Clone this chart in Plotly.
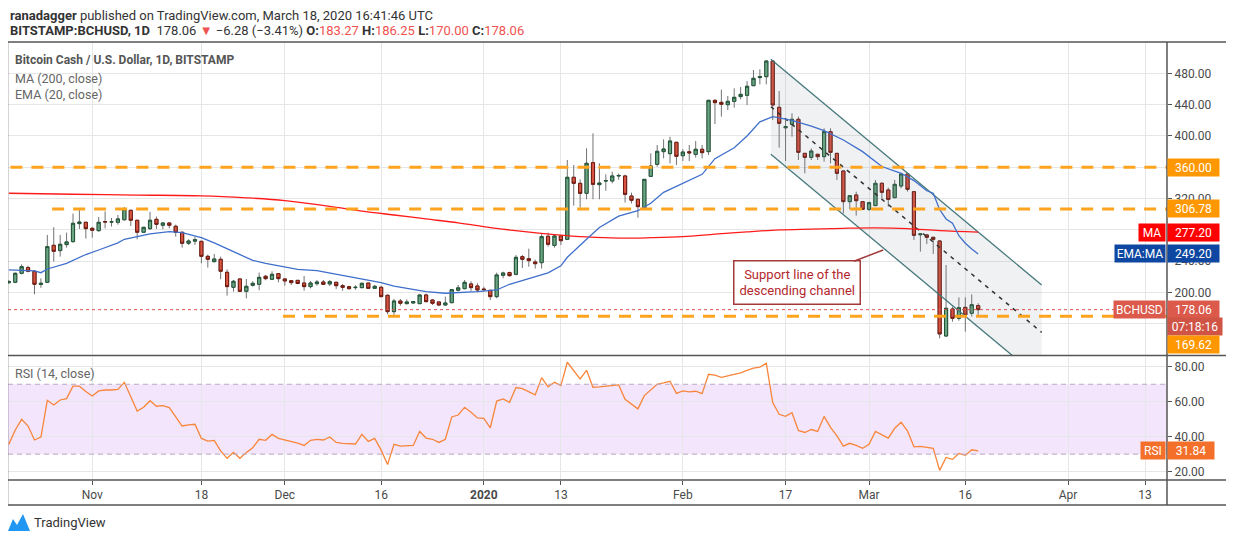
import plotly.graph_objects as go
import pandas as pd

# 페이지 기본 여백(8px)을 고려한 캔버스 크기
OX, OY = 8, 8
W, H = 1234 - OX, 541 - OY
FONT = "Liberation Sans Narrow, Roboto, Arial, sans-serif"

# 일봉 데이터 (BITSTAMP:BCHUSD, 2019-10-19 ~ 2020-03-18)
dates = pd.date_range("2019-10-19", "2020-03-18", freq="D")
opens = [
    212.5, 213, 224.5, 231.8, 227.1, 210.3, 213, 260.3, 253.5, 261.2,
    265, 288, 289.7, 282, 279, 290.5, 290, 289.7, 293, 305,
    292.3, 277, 281.6, 293.5, 285.9, 288.8, 284.6, 276.9, 262.9, 265.6,
    265.4, 246.2, 239.4, 242.4, 225.8, 206.6, 217.3, 201.5, 209.2, 210.5,
    220.7, 216.9, 224.1, 217.3, 215.1, 215.5, 212.1, 207.5, 211.3, 213.4,
    210.9, 213, 208.7, 207.4, 206.2, 206.2, 212.1, 205.3, 206.6, 196.4,
    175.5, 189.1, 185.7, 186.6, 185.7, 196.8, 190.4, 187.9, 184, 187,
    202.9, 204.9, 210.9, 208.3, 204.4, 202.8, 194.7, 221.9, 225.4, 223.2,
    245.8, 243.2, 239, 238.1, 271.8, 260.1, 272.2, 267.9, 347.2, 339.5,
    326.7, 365.9, 337.8, 342.5, 342.5, 348.9, 348.9, 323.3, 319.1, 308.4,
    348.4, 363.8, 380, 377.4, 391.9, 374.8, 379.8, 376.5, 383, 380,
    445.6, 443, 440, 444.3, 450.3, 452, 464.3, 474.6, 475.8, 495.8,
    436.6, 410.5, 414.9, 421.3, 377.8, 372.7, 376.6, 373.6, 405.5, 377.8,
    355.3, 316.1, 324.6, 316.1, 306.3, 311, 339.5, 331, 321.2, 336.1,
    351.4, 328.8, 273.8, 273.5, 270.5, 265.8, 144.4, 178.9, 167, 181,
    173.4, 183.27,
]
highs = [
    216, 225.5, 236, 234.3, 228, 218, 273.5, 283.3, 273.5, 276.5,
    300.8, 306.7, 290.5, 283.7, 296.5, 303.8, 295.2, 299, 309.3, 305.8,
    292.8, 283.5, 303, 297, 290.1, 290.1, 286.7, 278.2, 268, 271.4,
    265.9, 248.4, 249.2, 245.8, 229.6, 216, 217.8, 217.3, 214.3, 225.4,
    222.4, 227.1, 224.6, 218.1, 216, 216, 221.1, 214.7, 216, 216,
    216, 213.8, 210.9, 208.7, 209.2, 212.6, 212.5, 209.6, 208.7, 197.6,
    191.7, 191.7, 191.3, 189.1, 197.6, 198.5, 191.7, 188.3, 194.7, 203.9,
    209.6, 216, 214.3, 211.7, 207.4, 203.2, 225.4, 226.6, 226.6, 247.9,
    247.9, 256, 242, 275.6, 276.5, 273.5, 273.5, 369.3, 362.9, 344.6,
    384.2, 403.4, 365.1, 351, 354.4, 352, 350.5, 327.6, 319.5, 345,
    377.8, 388.5, 395.7, 399.1, 392.5, 383, 388.5, 393.6, 388.5, 446,
    446.5, 459.2, 451.1, 460.9, 462.6, 470.3, 484.3, 485.2, 496.7, 496.7,
    457.5, 422.6, 429, 424.7, 378.3, 384.2, 377, 409.8, 409.8, 378.3,
    355.8, 324, 328.8, 316.5, 316.1, 343.8, 340.8, 334, 343.8, 353.1,
    353.1, 329.7, 275.6, 274.8, 271, 267.1, 235.1, 181.9, 193.8, 193.8,
    197.6, 186.25,
]
lows = [
    211, 212, 223, 225.8, 197.7, 206, 212, 239.4, 245.8, 257.3,
    263.7, 281.2, 268.8, 270, 277.8, 282, 284.2, 286.7, 291.8, 285,
    268, 276.5, 280, 281.2, 280.7, 282, 271.4, 257.3, 260.7, 260.7,
    237.3, 231.8, 238.6, 216.9, 196, 201.1, 200.7, 192.6, 207.5, 202.8,
    215.6, 216, 213, 208.8, 209.6, 210.5, 202.3, 205.3, 208.7, 209.6,
    208.3, 204.5, 202.3, 203.6, 203.6, 205.3, 204.5, 204.5, 193.8, 172.1,
    168.3, 183.2, 184.9, 185.7, 185.3, 187.4, 184, 182.7, 183.2, 186.2,
    201.1, 204, 201.9, 200.2, 202.3, 190.4, 192.6, 218.1, 220.2, 221.9,
    231.3, 233, 230.5, 230.5, 258.6, 257.3, 260.7, 267.9, 311, 308.4,
    319.1, 319.1, 319.1, 330, 339.5, 344, 315, 313.9, 295.6, 307.5,
    348, 360.8, 371.4, 365, 362.9, 368, 368, 372.3, 371.4, 375.7,
    415.3, 424.7, 433.2, 436.2, 446.8, 439.6, 464, 466, 466, 420.4,
    385.1, 368, 399, 369.3, 352.3, 369.3, 369.3, 367.2, 365, 343.8,
    301.2, 306.3, 298.2, 305.4, 304.1, 310.5, 320.3, 309.7, 320.3, 333.1,
    328.9, 267.1, 252.2, 262, 249.2, 141.4, 143.5, 162.7, 164, 149.9,
    169.1, 170.00,
]
closes = [
    213.9, 224.5, 233, 227.1, 210.5, 211.7, 258.6, 252.6, 261.6, 264.6,
    288.4, 290.1, 281.6, 279.5, 289.7, 290.2, 290.3, 294, 306.3, 292.3,
    277, 283.3, 292.3, 287.1, 288.8, 285.9, 276.9, 262.9, 265.8, 267.5,
    246.2, 242.4, 242.8, 227.1, 207.5, 214.3, 201.5, 207.9, 211.7, 219.4,
    217.7, 223.2, 217.7, 214.7, 212.6, 211.5, 207.5, 212.1, 213.4, 210.4,
    213.8, 208.7, 206.6, 204.9, 206.6, 211.7, 205.3, 207.9, 194.7, 175.5,
    189.1, 186.2, 187.9, 188.3, 196.8, 188.3, 186.2, 184, 186.6, 203.6,
    205.9, 213, 206.2, 203.2, 203.6, 194.7, 222.4, 224.9, 221.5, 244.9,
    242.4, 240.7, 236.8, 271.4, 261.6, 272.2, 266.2, 347.2, 339.5, 326.7,
    365.1, 338.2, 339.9, 342.9, 348.9, 349.5, 325.4, 317.8, 309.7, 344.6,
    361.6, 380.4, 383.4, 393.6, 374, 379.5, 378.5, 383, 378.7, 445.6,
    442.6, 440.5, 444.3, 449.4, 453.2, 463.5, 473.7, 476, 495.8, 439.6,
    416.2, 412, 421.3, 379.1, 372.7, 380.8, 373.6, 405.5, 379.1, 352.3,
    316.1, 323.7, 317.3, 306.3, 314.8, 339.5, 328, 319, 338.2, 351.4,
    331.8, 273.1, 274.8, 270.5, 267.9, 147, 179.8, 167, 180.6, 171.2,
    184.34, 178.06,
]
rsi = [
    35.6, 43.8, 49.9, 46.1, 38.1, 39.8, 60.8, 58.1, 61.0, 61.8,
    68.9, 68.9, 65.8, 63.3, 66.2, 66.7, 66.7, 67.1, 71.1, 62.9,
    54.7, 56.8, 60.6, 57.4, 57.8, 56.6, 51.5, 46.1, 46.7, 47.1,
    39.0, 37.5, 37.9, 31.9, 27.6, 31.0, 27.6, 31.0, 33.7, 38.5,
    37.9, 41.3, 39.0, 38.1, 37.3, 36.3, 35.0, 37.9, 38.5, 38.1,
    39.8, 36.7, 36.2, 35.8, 35.8, 41.3, 37.3, 39.0, 32.3, 24.1,
    35.6, 34.6, 35.0, 35.0, 43.0, 39.2, 38.5, 36.7, 38.5, 51.3,
    52.4, 56.8, 54.0, 50.7, 50.5, 45.1, 60.4, 61.6, 59.7, 68.1,
    67.5, 65.8, 63.9, 73.8, 68.5, 71.1, 69.2, 82.6, 77.8, 73.1,
    78.0, 68.3, 68.5, 68.9, 68.9, 69.6, 61.4, 58.5, 55.9, 63.5,
    66.6, 70.0, 70.8, 71.7, 64.8, 66.2, 65.6, 66.0, 64.6, 75.7,
    75.2, 74.0, 74.8, 75.7, 76.5, 78.0, 79.2, 79.8, 82.0, 59.5,
    52.8, 51.6, 53.7, 43.6, 42.4, 44.1, 43.0, 51.6, 45.3, 40.4,
    34.6, 36.2, 35.0, 33.3, 35.6, 43.0, 41.1, 39.2, 44.8, 48.2,
    43.2, 34.2, 34.4, 33.9, 33.3, 20.7, 28.1, 27.0, 30.4, 29.3,
    32.5, 31.84,
]

# EMA(20) / MA(200) - 차트에서 읽은 값
ema_dates = [
    "2019-10-19", "2019-10-23", "2019-10-24", "2019-10-25", "2019-10-28", "2019-10-31",
    "2019-11-02", "2019-11-05", "2019-11-06", "2019-11-10", "2019-11-13", "2019-11-15",
    "2019-11-18", "2019-11-20", "2019-11-23", "2019-11-26", "2019-11-28", "2019-12-03",
    "2019-12-06", "2019-12-13", "2019-12-16", "2019-12-18", "2019-12-23", "2019-12-26",
    "2019-12-31", "2020-01-03", "2020-01-05", "2020-01-11", "2020-01-13", "2020-01-14",
    "2020-01-16", "2020-01-17", "2020-01-19", "2020-01-22", "2020-01-25", "2020-01-27",
    "2020-01-29", "2020-02-01", "2020-02-04", "2020-02-06", "2020-02-09", "2020-02-11",
    "2020-02-13", "2020-02-15", "2020-02-18", "2020-02-21", "2020-02-23", "2020-02-26",
    "2020-02-29", "2020-03-03", "2020-03-06", "2020-03-08", "2020-03-09", "2020-03-10",
    "2020-03-11", "2020-03-12", "2020-03-13", "2020-03-14", "2020-03-15", "2020-03-16",
    "2020-03-17", "2020-03-18",
]
ema_vals = [
    228.8, 227.5, 225.3, 230, 237.3, 248.5,
    254.3, 263.5, 268, 274.8, 277.7, 276.4,
    270, 263.5, 252.1, 241, 237.3, 229.5,
    228, 217.3, 212.5, 208, 201, 199,
    201, 203.2, 210.5, 225, 234, 245,
    261, 268, 283, 297.5, 304.5, 314,
    328, 339.5, 351, 371, 385, 400,
    418, 424.7, 420, 412.5, 406.8, 394.9,
    380, 361, 352.3, 343, 336, 330,
    326.8, 306, 294, 288.4, 272.5, 263,
    255.5, 249.2,
]
ma_dates = [
    "2019-10-19", "2019-10-29", "2019-11-08", "2019-11-18", "2019-11-25", "2019-12-01",
    "2019-12-08", "2019-12-13", "2019-12-18", "2019-12-23", "2019-12-28", "2020-01-02",
    "2020-01-07", "2020-01-12", "2020-01-17", "2020-01-22", "2020-01-27", "2020-02-01",
    "2020-02-06", "2020-02-11", "2020-02-16", "2020-02-21", "2020-02-26", "2020-03-02",
    "2020-03-07", "2020-03-12", "2020-03-18",
]
ma_vals = [
    326.8, 325.5, 324.5, 323.5, 321, 317.5,
    310, 304, 299, 294, 289, 283,
    278, 274, 271, 269.5, 270, 271.3,
    274.5, 277.5, 280, 281, 282, 282.5,
    281.5, 279, 277.2,
]

# 하락 채널
channel_dates = ["2020-02-14 17:00", "2020-03-27 21:30"]
channel_upper = [498.0, 209.6]
channel_mid = [437.4, 149.0]
channel_lower = [376.6, 88.2]

# 수평 지지/저항선
level_prices = [360.00, 306.78, 169.62]
level_starts = ["2019-10-19 06:00", "2019-10-25 18:00", "2019-11-30 17:00"]

ma_last = 277.20
ema_last = 249.20
countdown = "07:18:16"

price_ticks = [160, 200, 240, 280, 320, 360, 400, 440, 480]
price_ticktext = ["", "200.00", "240.00", "", "320.00", "", "400.00", "440.00", "480.00"]
rsi_ticks = [20, 40, 60, 80]
tick_dates = ["2019-11-01", "2019-11-18", "2019-12-01", "2019-12-16", "2020-01-01", "2020-01-13",
              "2020-02-01", "2020-02-17", "2020-03-01", "2020-03-16", "2020-04-01", "2020-04-13"]
tick_text = ["Nov", "18", "Dec", "16", "<b>2020</b>", "13", "Feb", "17", "Mar", "16", "Apr", "13"]

X_RANGE = ["2019-10-18 21:00", "2020-04-16 10:00"]


def px(x):
    return (x - OX) / W


def py(y):
    return 1 - (y - OY) / H


UP_FILL, UP_LINE = "#6BA583", "#225437"
DN_FILL, DN_LINE = "#D75442", "#6F1A0F"
WICK = "#737375"
RED_TXT = "#EF5350"

fig = go.Figure()

# 채널 영역
fig.add_trace(go.Scatter(
    x=[channel_dates[0], channel_dates[1], channel_dates[1], channel_dates[0]],
    y=[channel_upper[0], channel_upper[1], channel_lower[1], channel_lower[0]],
    fill="toself", fillcolor="rgba(120,128,145,0.11)", mode="none",
    hoverinfo="skip", xaxis="x", yaxis="y"))
for vals in (channel_upper, channel_lower):
    fig.add_trace(go.Scatter(x=channel_dates, y=vals, mode="lines",
                             line=dict(color="#46787C", width=1.3),
                             hoverinfo="skip", xaxis="x", yaxis="y"))
fig.add_trace(go.Scatter(x=channel_dates, y=channel_mid, mode="lines",
                         line=dict(color="#333333", width=1.5, dash="4px,5px"),
                         hoverinfo="skip", xaxis="x", yaxis="y"))

# MA / EMA
fig.add_trace(go.Scatter(x=ma_dates, y=ma_vals, mode="lines", line=dict(color="#FF1A1A", width=1.3),
                         line_shape="spline", hoverinfo="skip", xaxis="x", yaxis="y"))
fig.add_trace(go.Scatter(x=ema_dates, y=ema_vals, mode="lines", line=dict(color="#3F6FCB", width=1.3),
                         hoverinfo="skip", xaxis="x", yaxis="y"))

# 캔들: 심지(회색) + 몸통(진한 테두리)
fig.add_trace(go.Candlestick(
    x=dates, open=opens, high=highs, low=lows, close=closes,
    increasing=dict(line=dict(color=WICK, width=1), fillcolor=UP_FILL),
    decreasing=dict(line=dict(color=WICK, width=1), fillcolor=DN_FILL),
    whiskerwidth=0, hoverinfo="skip", xaxis="x", yaxis="y"))
body_hi = [max(o, c) for o, c in zip(opens, closes)]
body_lo = [min(o, c) for o, c in zip(opens, closes)]
fig.add_trace(go.Candlestick(
    x=dates, open=opens, high=body_hi, low=body_lo, close=closes,
    increasing=dict(line=dict(color=UP_LINE, width=1), fillcolor=UP_FILL),
    decreasing=dict(line=dict(color=DN_LINE, width=1), fillcolor=DN_FILL),
    whiskerwidth=0, hoverinfo="skip", xaxis="x", yaxis="y"))

# RSI
fig.add_trace(go.Scatter(x=dates, y=rsi, mode="lines", line=dict(color="#F7863B", width=1.3),
                         hoverinfo="skip", xaxis="x2", yaxis="y2"))

shapes = []
# RSI 30-70 밴드
shapes.append(dict(type="rect", xref="x2", yref="y2", x0=X_RANGE[0], x1=X_RANGE[1], y0=30, y1=70,
                   fillcolor="#F3E6FC", line=dict(width=0), layer="below"))
for lv in (30, 70):
    shapes.append(dict(type="line", xref="x2", yref="y2", x0=X_RANGE[0], x1=X_RANGE[1], y0=lv, y1=lv,
                       line=dict(color="#B8A8C0", width=1, dash="5px,4px")))
# 주황 점선 레벨
for p, s in zip(level_prices, level_starts):
    shapes.append(dict(type="line", xref="x", yref="y", x0=s, x1=X_RANGE[1], y0=p, y1=p,
                       line=dict(color="#FFA41F", width=3, dash="12px,9px")))
# 현재가 점선
shapes.append(dict(type="line", xref="x", yref="y", x0=X_RANGE[0], x1=X_RANGE[1],
                   y0=closes[-1], y1=closes[-1], line=dict(color="#D9534F", width=1, dash="dot")))

# 프레임
FR = dict(color="#555555", width=1.5)
for (x0, y0, x1, y1) in [(7, 42, 1227, 42), (7, 505, 1227, 505), (7.5, 42, 7.5, 505),
                         (1227, 42, 1227, 505), (1167, 42, 1167, 505),
                         (7, 355.5, 1227, 355.5), (7, 480, 1227, 480)]:
    shapes.append(dict(type="line", xref="paper", yref="paper", x0=px(x0), y0=py(y0),
                       x1=px(x1), y1=py(y1), line=FR))

# TradingView 로고
logo = [(8, 531), (13, 519), (17, 525), (23, 514), (30, 531)]
path = "M " + " L ".join(f"{px(a):.5f},{py(b):.5f}" for a, b in logo) + " Z"
shapes.append(dict(type="path", xref="paper", yref="paper", path=path,
                   fillcolor="#2196F3", line=dict(width=0)))

ann = []


def txt(text, x, y, size=13, color="#333333", anchor="left"):
    ann.append(dict(text=text, x=px(x), y=py(y), xref="paper", yref="paper", xanchor=anchor,
                    yanchor="middle", showarrow=False, font=dict(family=FONT, size=size, color=color)))


def axis_label(text, y, color, yref="y", yshift=0, x=1167, anchor="left", width=49):
    ann.append(dict(text=text, x=px(x), xref="paper", y=y, yref=yref, yshift=yshift,
                    xanchor=anchor, yanchor="middle", showarrow=False, width=width, height=15,
                    borderpad=1, bgcolor=color, font=dict(family=FONT, size=12, color="white")))


def red(v):
    return f"<span style='color:{RED_TXT}'>{v:.2f}</span>"


chg = closes[-1] - closes[-2]
pct = chg / closes[-2] * 100
txt("<b>ranadagger</b> published on TradingView.com, March 18, 2020 16:41:46 UTC", 8, 15, 13)
txt(f"<b>BITSTAMP:BCHUSD, 1D</b>  {closes[-1]:.2f} <span style='color:{RED_TXT}'>▼</span> "
    f"\u2212{abs(chg):.2f} (\u2212{abs(pct):.2f}%) <b>O:</b>{red(opens[-1])} <b>H:</b>{red(highs[-1])} "
    f"<b>L:</b>{red(lows[-1])} <b>C:</b>{red(closes[-1])}", 8, 31, 13)
txt("<b>Bitcoin Cash / U.S. Dollar, 1D, BITSTAMP</b>", 13, 60, 12, "#555555")
txt("MA (200, close)", 13, 78, 12.5, "#666666")
txt("EMA (20, close)", 13, 95, 12.5, "#666666")
txt("RSI (14, close)", 13, 373, 12.5, "#666666")
txt("TradingView", 32, 522, 13, "#333333")

# 오른쪽 축 라벨
axis_label(f"{level_prices[0]:.2f}", level_prices[0], "#FF9800")
axis_label(f"{level_prices[1]:.2f}", level_prices[1], "#FF9800")
axis_label("MA", ma_last, "#FF0000", x=1166, anchor="right", width=24)
axis_label(f"{ma_last:.2f}", ma_last, "#FF0000")
axis_label("EMA:MA", ema_last, "#0D47A1", x=1166, anchor="right", width=48)
axis_label(f"{ema_last:.2f}", ema_last, "#0D47A1")
axis_label("BCHUSD", closes[-1], "#DB5A4B", x=1166, anchor="right", width=49)
axis_label(f"{closes[-1]:.2f}", closes[-1], "#DB5A4B")
axis_label(countdown, closes[-1], "#CF5446", yshift=-17, width=52)
axis_label(f"{level_prices[2]:.2f}", level_prices[2], "#FF9800", yshift=-28)
axis_label("RSI", rsi[-1], "#F4702A", yref="y2", x=1166, anchor="right", width=22)
axis_label(f"{rsi[-1]:.2f}", rsi[-1], "#F4702A", yref="y2", width=44)

# 설명 박스
ann.append(dict(text="Support line of the<br>descending channel", x="2020-03-03 05:00", y=254.3,
                xref="x", yref="y", ax=-86, ay=33, showarrow=True, arrowhead=0, arrowwidth=1.5,
                arrowcolor="#A33A3A", bgcolor="white", bordercolor="#A33A3A", borderwidth=1.5,
                borderpad=5, align="center", font=dict(family=FONT, size=13, color="#B3282D")))

axis_font = dict(family=FONT, size=12, color="#4A4A4A")
grid = "#E6E6E6"
fig.update_layout(
    width=W, height=H, autosize=False, margin=dict(l=0, r=0, t=0, b=0),
    paper_bgcolor="white", plot_bgcolor="white", showlegend=False,
    shapes=shapes, annotations=ann,
    xaxis=dict(domain=[px(8), px(1167)], range=X_RANGE, type="date", anchor="y",
               tickvals=tick_dates, showticklabels=False, showgrid=True, gridcolor=grid,
               zeroline=False, showline=False, rangeslider=dict(visible=False)),
    xaxis2=dict(domain=[px(8), px(1167)], range=X_RANGE, type="date", anchor="y2",
                tickvals=tick_dates, ticktext=tick_text, ticks="outside", ticklen=4,
                tickcolor="#555555", tickfont=axis_font, showgrid=True, gridcolor=grid,
                zeroline=False, showline=False, rangeslider=dict(visible=False)),
    yaxis=dict(domain=[py(355), py(42)], range=[120.1, 520.1], side="right", anchor="x",
               tickvals=price_ticks, ticktext=price_ticktext, ticks="outside", ticklen=4,
               tickcolor="#555555", tickfont=axis_font, showgrid=True, gridcolor=grid,
               zeroline=False, showline=False),
    yaxis2=dict(domain=[py(480), py(357)], range=[15.2, 85.6], side="right", anchor="x2",
                tickvals=rsi_ticks, tickformat=".2f", ticks="outside", ticklen=4,
                tickcolor="#555555", tickfont=axis_font, showgrid=True, gridcolor=grid,
                zeroline=False, showline=False),
)

fig.write_html("out.html")
